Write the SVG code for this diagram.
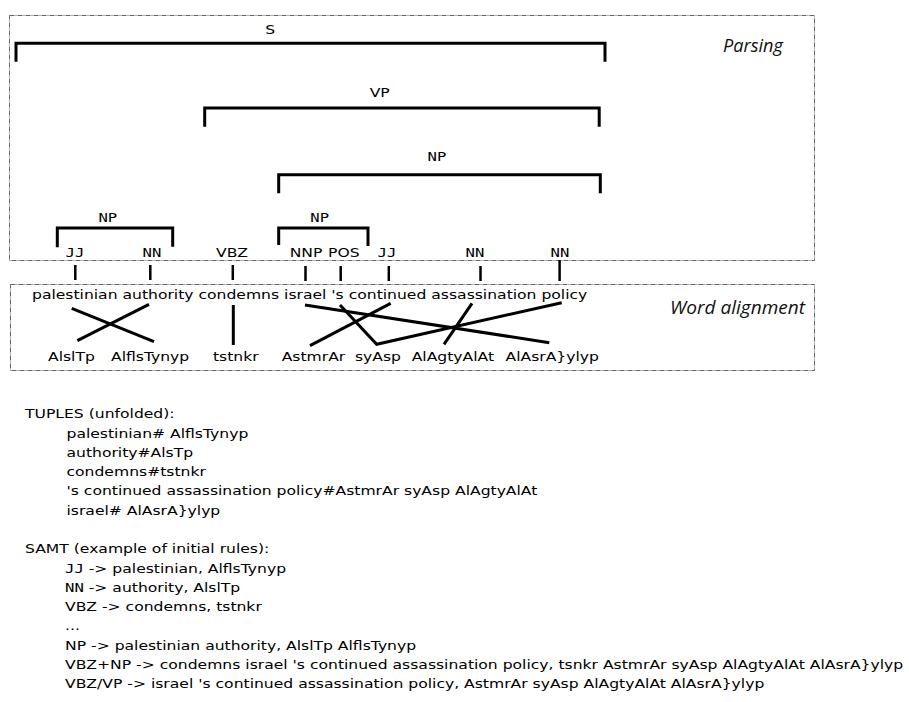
<svg xmlns="http://www.w3.org/2000/svg" width="909" height="702" viewBox="0 0 909 702">
<style>
  .box { fill: none; stroke: #666; stroke-width: 1; stroke-dasharray: 5 1 1 1; }
  .br { fill: none; stroke: #000; stroke-width: 3; }
  .tick { stroke: #000; stroke-width: 2.5; }
  .al { fill: none; stroke: #000; stroke-width: 3; stroke-linejoin: miter; }
  text { font-family: "DejaVu Sans", sans-serif; font-size: 13px; fill: #000; }
  .mono { font-family: "DejaVu Sans Mono", monospace; }
  .mid { text-anchor: middle; }
  .lab { font-family: "Open Sans", "DejaVu Sans", sans-serif; font-style: italic; font-size: 18px; fill: #111; }
</style>
<rect width="909" height="702" fill="#fff"/>

<g id="panels">
  <rect class="box" x="9.5" y="15.5" width="805" height="245"/>
  <rect class="box" x="10.5" y="284.5" width="804" height="86"/>
  <text class="lab" x="723" y="51.5" textLength="60" lengthAdjust="spacingAndGlyphs">Parsing</text>
  <text class="lab" x="670" y="314.3" textLength="135" lengthAdjust="spacingAndGlyphs">Word alignment</text>
</g>

<g id="node-S">
  <polyline class="br" points="16,61.7 16,43.3 605,43.3 605,61.7"/>
  <text class="mid" transform="translate(270.3,34.3) scale(1.2,1)">S</text>
</g>
<g id="node-VP">
  <polyline class="br" points="204.7,126.7 204.7,108 599.2,108 599.2,126.7"/>
  <text class="mid" transform="translate(379.7,96.5) scale(1.2,1)">VP</text>
</g>
<g id="node-NP-big">
  <polyline class="br" points="278.7,193.3 278.7,174.7 600.3,174.7 600.3,193.3"/>
  <text class="mid mono" transform="translate(437,160.5) scale(1.2,1)">NP</text>
</g>
<g id="node-NP-left">
  <polyline class="br" points="57.3,247.3 57.3,228 172.7,228 172.7,246.7"/>
  <text class="mid mono" transform="translate(107.8,221.5) scale(1.2,1)">NP</text>
</g>
<g id="node-NP-right">
  <polyline class="br" points="278.7,245 278.7,228 368,228 368,246"/>
  <text class="mid mono" transform="translate(319.7,221.5) scale(1.2,1)">NP</text>
</g>

<g id="pos-tags">
  <g id="pos-JJ1"><text class="mid mono" transform="translate(75,257) scale(1.2,1)">JJ</text><line class="tick" x1="75.3" y1="265" x2="75.3" y2="280"/></g>
  <g id="pos-NN1"><text class="mid mono" transform="translate(152,257) scale(1.2,1)">NN</text><line class="tick" x1="150.3" y1="265" x2="150.3" y2="280"/></g>
  <g id="pos-VBZ"><text class="mid" transform="translate(232,257) scale(1.2,1)">VBZ</text><line class="tick" x1="232.8" y1="265" x2="232.8" y2="280"/></g>
  <g id="pos-NNP"><text class="mid" transform="translate(306,257) scale(1.2,1)">NNP</text><line class="tick" x1="305.5" y1="266" x2="305.5" y2="281"/></g>
  <g id="pos-POS"><text class="mid" transform="translate(343.8,257) scale(1.2,1)">POS</text><line class="tick" x1="340.7" y1="266" x2="340.7" y2="281"/></g>
  <g id="pos-JJ2"><text class="mid mono" transform="translate(387,257) scale(1.2,1)">JJ</text><line class="tick" x1="388.8" y1="266" x2="388.8" y2="281"/></g>
  <g id="pos-NN2"><text class="mid mono" transform="translate(475,257) scale(1.2,1)">NN</text><line class="tick" x1="480.5" y1="266" x2="480.5" y2="281"/></g>
  <g id="pos-NN3"><text class="mid mono" transform="translate(560,257) scale(1.2,1)">NN</text><line class="tick" x1="559.6" y1="260" x2="559.6" y2="281"/></g>
</g>

<g id="source-words">
  <text transform="translate(32,299) scale(1.2,1)">palestinian authority condemns israel 's continued assassination policy</text>
</g>

<g id="target-words">
  <text transform="translate(48,360.5) scale(1.2,1)">AlslTp</text>
  <text transform="translate(111,360.5) scale(1.2,1)">AlflsTynyp</text>
  <text transform="translate(213,360.5) scale(1.2,1)">tstnkr</text>
  <text transform="translate(281.7,360.5) scale(1.2,1)">AstmrAr</text>
  <text transform="translate(355,360.5) scale(1.2,1)">syAsp</text>
  <text transform="translate(411.7,360.5) scale(1.2,1)">AlAgtyAlAt</text>
  <text transform="translate(505.5,360.5) scale(1.2,1)">AlAsrA}ylyp</text>
</g>

<g id="connectors">
  <line class="al" x1="71.7" y1="308.3" x2="154" y2="341.7"/>
  <line class="al" x1="149" y1="304.3" x2="77.3" y2="340.7"/>
  <line class="al" x1="233.3" y1="305" x2="233.3" y2="345"/>
  <line class="al" x1="305" y1="305" x2="549.3" y2="342.7"/>
  <polyline class="al" points="340,305 376.7,344.3 561.7,302.7"/>
  <line class="al" x1="390.7" y1="303.3" x2="310" y2="345.7"/>
  <line class="al" x1="472" y1="303.3" x2="444" y2="344.3"/>
</g>

<g id="tuples">
  <text transform="translate(25,418) scale(1.2,1)">TUPLES (unfolded):</text>
  <text transform="translate(66.5,437.5) scale(1.2,1)">palestinian# AlflsTynyp</text>
  <text transform="translate(66.5,456.5) scale(1.2,1)">authority#AlsTp</text>
  <text transform="translate(66.5,476) scale(1.2,1)">condemns#tstnkr</text>
  <text transform="translate(66.5,495) scale(1.2,1)">'s continued assassination policy#AstmrAr syAsp AlAgtyAlAt</text>
  <text transform="translate(66.5,514.5) scale(1.2,1)">israel# AlAsrA}ylyp</text>
</g>

<g id="samt">
  <text transform="translate(25,553) scale(1.2,1)">SAMT (example of initial rules):</text>
  <text transform="translate(65,572.5) scale(1.2,1)"><tspan class="mono">JJ</tspan> -&gt; palestinian, AlflsTynyp</text>
  <text transform="translate(65,591.5) scale(1.2,1)"><tspan class="mono">NN</tspan> -&gt; authority, AlslTp</text>
  <text transform="translate(65,611) scale(1.2,1)">VBZ -&gt; condemns, tstnkr</text>
  <text transform="translate(65,630) scale(1.2,1)">...</text>
  <text transform="translate(65,649.5) scale(1.2,1)">NP -&gt; palestinian authority, AlslTp AlflsTynyp</text>
  <text transform="translate(65,669) scale(1.2,1)">VBZ+NP -&gt; condemns israel 's continued assassination policy, tsnkr AstmrAr syAsp AlAgtyAlAt AlAsrA}ylyp</text>
  <text transform="translate(65,688) scale(1.2,1)">VBZ/VP -&gt; israel 's continued assassination policy, AstmrAr syAsp AlAgtyAlAt AlAsrA}ylyp</text>
</g>
</svg>
